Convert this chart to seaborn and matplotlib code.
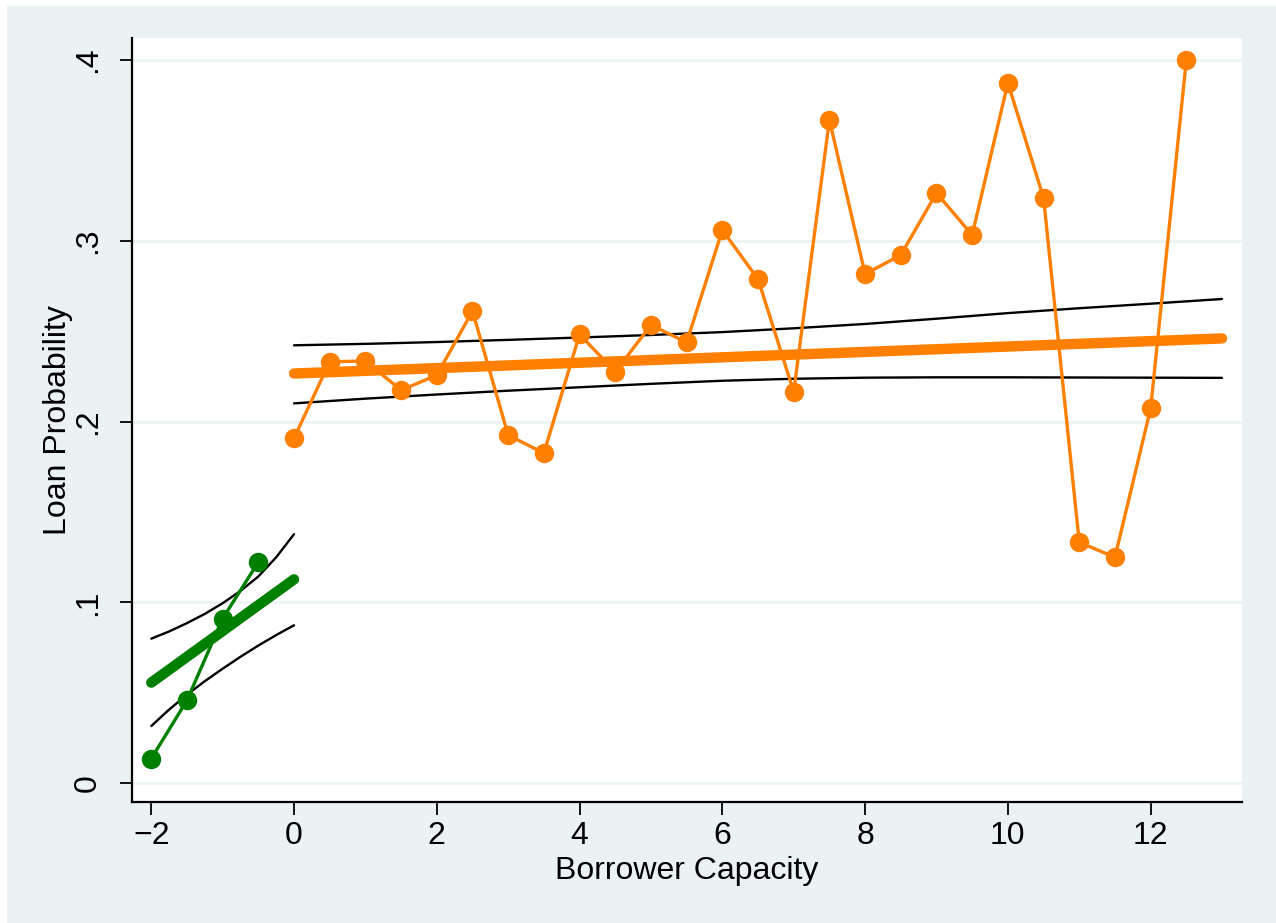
import numpy as np
import pandas as pd
import seaborn as sns
import matplotlib.pyplot as plt
from matplotlib.patches import Rectangle

# binned means
x_left = [-2.0, -1.5, -1.0, -0.5]
y_left = [0.0137, 0.0459, 0.0911, 0.1224]

x_right = [0.0, 0.5, 1.0, 1.5, 2.0, 2.5, 3.0, 3.5, 4.0, 4.5, 5.0, 5.5, 6.0,
           6.5, 7.0, 7.5, 8.0, 8.5, 9.0, 9.5, 10.0, 10.5, 11.0, 11.5, 12.0, 12.5]
y_right = [0.1909, 0.2331, 0.2335, 0.2174, 0.2257, 0.2611, 0.1925, 0.1826,
           0.2482, 0.2276, 0.2534, 0.2438, 0.3059, 0.2788, 0.2165, 0.3668,
           0.2816, 0.2921, 0.3264, 0.3032, 0.3873, 0.3237, 0.1333, 0.1250,
           0.2073, 0.4000]

# linear fits and their confidence bands
fit_left_x = [-2.0, 0.0]
fit_left_y = [0.0557, 0.1128]
ci_left_x = [-2.0, -1.75, -1.5, -1.25, -1.0, -0.75, -0.5, -0.25, 0.0]
ci_left_hi = [0.0800, 0.0840, 0.0886, 0.0937, 0.0996, 0.1064, 0.1144, 0.1250, 0.1378]
ci_left_lo = [0.0317, 0.0408, 0.0490, 0.0565, 0.0634, 0.0700, 0.0762, 0.0820, 0.0874]

fit_right_x = [0.0, 13.0]
fit_right_y = [0.2266, 0.2460]
ci_right_x = [0.0, 1.0, 2.0, 3.0, 4.0, 5.0, 6.0, 7.0, 8.0, 9.0, 10.0, 11.0, 12.0, 13.0]
ci_right_hi = [0.2422, 0.2430, 0.2440, 0.2452, 0.2465, 0.2479, 0.2495, 0.2516,
               0.2540, 0.2569, 0.2600, 0.2627, 0.2652, 0.2678]
ci_right_lo = [0.2101, 0.2127, 0.2150, 0.2171, 0.2190, 0.2209, 0.2226, 0.2237,
               0.2243, 0.2245, 0.2245, 0.2244, 0.2243, 0.2242]

x_ticks = [-2, 0, 2, 4, 6, 8, 10, 12]
y_ticks = [0, 0.1, 0.2, 0.3, 0.4]
y_ticklabels = ['0', '.1', '.2', '.3', '.4']

BG = '#EAF2F3'
ORANGE = '#FF8000'
GREEN = '#008000'

sns.set_style('ticks')
plt.rcParams['font.family'] = ['Liberation Sans', 'DejaVu Sans']
plt.rcParams['text.color'] = 'black'
plt.rcParams['axes.labelcolor'] = 'black'

fig = plt.figure(figsize=(12.76, 9.23), dpi=100)
fig.patch.set_facecolor('white')
fig.patches.append(Rectangle((7 / 1276, 0), 1, 1 - 6 / 923, transform=fig.transFigure,
                             facecolor=BG, edgecolor='none', zorder=-10))

ax = fig.add_axes([132 / 1276, 121 / 923, 1110 / 1276, 764 / 923])
ax.set_facecolor('white')

for ty in y_ticks:
    ax.axhline(ty, color=BG, lw=1.8, zorder=0)

# confidence bands
for cx, lo, hi in [(ci_left_x, ci_left_lo, ci_left_hi), (ci_right_x, ci_right_lo, ci_right_hi)]:
    sns.lineplot(x=cx, y=hi, color='black', lw=1.7, ax=ax, estimator=None, zorder=2)
    sns.lineplot(x=cx, y=lo, color='black', lw=1.7, ax=ax, estimator=None, zorder=2)

# fitted lines
sns.lineplot(x=fit_left_x, y=fit_left_y, color=GREEN, lw=7.5, ax=ax,
             estimator=None, zorder=3, solid_capstyle='round')
sns.lineplot(x=fit_right_x, y=fit_right_y, color=ORANGE, lw=7.5, ax=ax,
             estimator=None, zorder=3, solid_capstyle='round')

# connected bin means
sns.lineplot(x=x_left, y=y_left, color=GREEN, lw=2.4, marker='o', markersize=14,
             markeredgewidth=0, ax=ax, estimator=None, zorder=4)
sns.lineplot(x=x_right, y=y_right, color=ORANGE, lw=2.4, marker='o', markersize=14,
             markeredgewidth=0, ax=ax, estimator=None, zorder=4)

ax.set_xlim(-2.27, 13.28)
ax.set_ylim(-0.0103, 0.4121)
ax.set_xticks(x_ticks)
ax.set_yticks(y_ticks)
ax.set_yticklabels(y_ticklabels, rotation=90, va='center')

ax.tick_params(axis='both', direction='out', length=9, width=1.3, color='black',
               labelsize=23, labelcolor='black')
ax.tick_params(axis='x', pad=5)
ax.tick_params(axis='y', pad=12)

sns.despine(ax=ax)
for side in ['left', 'bottom']:
    ax.spines[side].set_linewidth(1.6)
    ax.spines[side].set_color('black')

ax.set_xlabel('Borrower Capacity', fontsize=23, color='black')
ax.set_ylabel('Loan Probability', fontsize=23, color='black')
ax.xaxis.set_label_coords(0.5, (802 - 871) / 764)
ax.xaxis.label.set_va('center')
ax.yaxis.set_label_coords((58 - 132) / 1110, 0.5)
ax.yaxis.label.set_va('center')

fig.savefig('out.png', dpi=100, facecolor=fig.get_facecolor())
plt.close(fig)
